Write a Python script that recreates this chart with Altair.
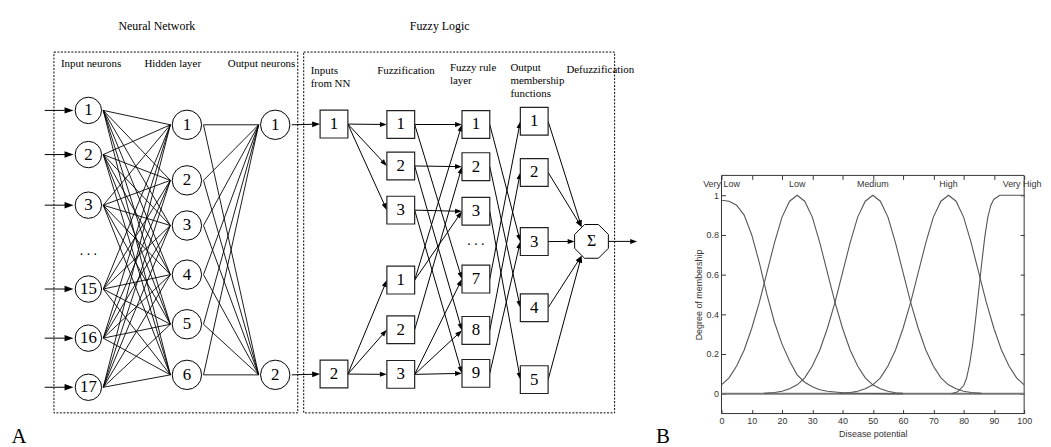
import math
import altair as alt
import pandas as pd

# ---------------- canvas ----------------
W, H, M = 1043, 439, 8          # chart size (px) and page margin

# ================= Panel A : texts =================
titles = ["Neural Network", "Fuzzy Logic"]
title_x = [158, 443]
title_y = [24, 24]

nn_heads = ["Input neurons", "Hidden layer", "Output neurons"]
nn_head_x = [91.7, 174, 263.5]
nn_head_y = [63, 63, 63]

fz_heads = ["Inputs", "from NN", "Fuzzification", "Fuzzy rule", "layer",
            "Output", "membership", "functions", "Defuzzification"]
fz_head_x = [313, 313, 380, 453.3, 453.3, 514.3, 514.3, 514.3, 570.7]
fz_head_y = [70, 82.7, 70, 66.7, 80, 66.7, 80, 93.3, 69.3]

letters = ["A", "B"]
letter_x = [19, 668]
letter_y = [439, 439]

dots_x = [89, 479.5]
dots_y = [255, 245]

# ================= Panel A : nodes =================
in_labels = ["1", "2", "3", "15", "16", "17"]
in_y = [109.5, 154, 205, 289.5, 339, 388.5]
hid_labels = ["1", "2", "3", "4", "5", "6"]
hid_y = [124, 180, 225.5, 275, 325, 376]
out_labels = ["1", "2"]
out_y = [124, 376]
IN_X, HID_X, OUT_X = 89, 188.3, 277.3
R_IN, R_HID = 15, 16.7

nnin_labels = ["1", "2"]
nnin_y = [123.3, 375.2]
fuz_labels = ["1", "2", "3", "1", "2", "3"]
fuz_y = [123.7, 165.5, 210, 280.5, 330.5, 375.5]
rule_labels = ["1", "2", "3", "7", "8", "9"]
rule_y = [123.7, 166.2, 211.2, 279.5, 331.2, 374.5]
omf_labels = ["1", "2", "3", "4", "5"]
omf_y = [120.5, 172, 241.7, 308.3, 380.8]
NNIN_X, FUZ_X, RULE_X, OMF_X = 336.5, 403.8, 479.5, 538.3
HB = 14                              # half box side
SIG_X, SIG_Y, SIG = 596, 241.5, 34
sigma_label = "Σ"

# connections (from index, to index)
nnin_to_fuz = [(0, 0), (0, 1), (0, 2), (1, 3), (1, 4), (1, 5)]
fuz_to_rule = [(0, 0), (0, 3), (1, 1), (1, 4), (2, 2), (2, 5),
               (3, 0), (3, 2), (4, 1), (5, 3), (5, 4), (5, 5)]
rule_to_omf = [(0, 2), (1, 3), (2, 4), (3, 0), (4, 1), (5, 2)]
omf_sigma_tip = [(-10, -14.5), (-10, -14.5), (-17, 0), (-10, 14.5), (-10, 14.5)]

# dashed group frames
frame_x1 = [54.3, 306]
frame_x2 = [300, 619.3]
frame_y1 = [50.7, 50.7]
frame_y2 = [414.3, 414.3]

# ================= Panel B : membership functions =================
b_x_domain = [0, 100]
b_y_domain = [-0.1, 1.1]
x_ticks = [0, 10, 20, 30, 40, 50, 60, 70, 80, 90, 100]
y_ticks = [0, 0.2, 0.4, 0.6, 0.8, 1]
mf_names = ["Very Low", "Low", "Medium", "High", "Very High"]
mf_label_x = [0, 25, 50, 75, 99.3]
mf_label_y = [1.055, 1.055, 1.055, 1.055, 1.055]

vl_x = [0, 2.5, 5, 7.5, 10, 12.5, 15, 17.5, 20, 22.5, 25, 27.5, 30, 32.5, 35, 40, 45, 50, 55, 60]
vl_y = [0.975, 0.97, 0.95, 0.9, 0.8, 0.66, 0.5, 0.36, 0.25, 0.165, 0.095, 0.058, 0.035, 0.02,
        0.012, 0.005, 0.002, 0.001, 0.0, 0.0]
low_x = [0, 2.5, 5, 7.5, 10, 12.5, 15, 17.5, 20, 22.5, 25, 27.5, 30, 32.5, 35, 37.5, 40,
         42.5, 45, 47.5, 50, 52.5, 55, 57.5, 60]
low_y = [0.045, 0.08, 0.14, 0.22, 0.33, 0.46, 0.61, 0.76, 0.89, 0.97, 1.0, 0.97, 0.89, 0.76,
         0.61, 0.46, 0.33, 0.22, 0.14, 0.08, 0.045, 0.025, 0.012, 0.005, 0.002]
med_x = [14, 15, 17.5, 20, 22.5, 25, 27.5, 30, 32.5, 35, 37.5, 40, 42.5, 45, 47.5, 50, 52.5,
         55, 57.5, 60, 62.5, 65, 67.5, 70, 72.5, 75, 77.5, 80, 82.5, 85, 86]
med_y = [0.002, 0.003, 0.006, 0.012, 0.025, 0.045, 0.08, 0.14, 0.22, 0.33, 0.46, 0.61, 0.76,
         0.89, 0.97, 1.0, 0.97, 0.89, 0.76, 0.61, 0.46, 0.33, 0.22, 0.14, 0.08, 0.045, 0.025,
         0.012, 0.006, 0.003, 0.002]
high_x = [39, 40, 42.5, 45, 47.5, 50, 52.5, 55, 57.5, 60, 62.5, 65, 67.5, 70, 72.5, 75, 77.5,
          80, 82.5, 85, 87.5, 90, 92.5, 95, 97.5, 100]
high_y = [0.002, 0.003, 0.006, 0.012, 0.025, 0.045, 0.08, 0.14, 0.22, 0.33, 0.46, 0.61, 0.76,
          0.89, 0.97, 1.0, 0.97, 0.89, 0.76, 0.61, 0.46, 0.33, 0.22, 0.14, 0.08, 0.045]
vh_x = [76, 78, 80, 81, 82, 83, 84, 85, 86, 87, 88, 89, 90, 91, 92, 94, 96, 100]
vh_y = [0.0, 0.01, 0.04, 0.08, 0.15, 0.25, 0.38, 0.52, 0.66, 0.79, 0.89, 0.95, 0.98, 0.99,
        1.0, 1.0, 1.0, 1.0]
zero_x = [0, 100]
zero_y = [0, 0]

# panel B plot-area placement (page px)
B_LEFT, B_RIGHT, B_TOP, B_BOTTOM = 727, 1032, 175, 415

# ================= build tables =================
SERIF = "Liberation Serif"
SANS = "Liberation Sans"

edges = []
for iy in in_y:
    for hy in hid_y:
        edges.append(dict(x=IN_X + R_IN, y=iy, x2=HID_X - R_HID, y2=hy))
for hy in hid_y:
    for oy in out_y:
        edges.append(dict(x=HID_X + R_HID, y=hy, x2=OUT_X - R_HID, y2=oy))
edges = pd.DataFrame(edges)

arrows = []
def add_arrow(x1, y1, x2, y2, size):
    ang = math.atan2(y2 - y1, x2 - x1)
    r = math.sqrt(size) / 2
    hx, hy = x2 - r * math.cos(ang), y2 - r * math.sin(ang)
    arrows.append(dict(x=x1, y=y1, x2=hx, y2=hy, hx=hx, hy=hy,
                       ang=math.degrees(ang) % 360, sz=size))

for iy in in_y:
    add_arrow(45, iy, IN_X - R_IN, iy, 81)
for oy, ny in zip(out_y, nnin_y):
    add_arrow(OUT_X + R_HID, oy, NNIN_X - HB, ny, 64)
for a, b in nnin_to_fuz:
    add_arrow(NNIN_X + HB, nnin_y[a], FUZ_X - HB, fuz_y[b], 49)
for a, b in fuz_to_rule:
    add_arrow(FUZ_X + HB, fuz_y[a], RULE_X - HB, rule_y[b], 49)
for a, b in rule_to_omf:
    add_arrow(RULE_X + HB, rule_y[a], OMF_X - HB, omf_y[b], 49)
for oy, (dx, dy) in zip(omf_y, omf_sigma_tip):
    add_arrow(OMF_X + HB, oy, SIG_X + dx, SIG_Y + dy, 49)
add_arrow(SIG_X + SIG / 2, SIG_Y, 642, SIG_Y, 49)
arrows = pd.DataFrame(arrows)

circles = pd.DataFrame(
    [dict(x=IN_X, y=y, t=t, s=math.pi * R_IN ** 2) for y, t in zip(in_y, in_labels)] +
    [dict(x=HID_X, y=y, t=t, s=math.pi * R_HID ** 2) for y, t in zip(hid_y, hid_labels)] +
    [dict(x=OUT_X, y=y, t=t, s=math.pi * R_HID ** 2) for y, t in zip(out_y, out_labels)])

boxes = pd.DataFrame(
    [dict(x=NNIN_X, y=y, t=t) for y, t in zip(nnin_y, nnin_labels)] +
    [dict(x=FUZ_X, y=y, t=t) for y, t in zip(fuz_y, fuz_labels)] +
    [dict(x=RULE_X, y=y, t=t) for y, t in zip(rule_y, rule_labels)] +
    [dict(x=OMF_X, y=y, t=t) for y, t in zip(omf_y, omf_labels)])

sigma = pd.DataFrame([dict(x=SIG_X, y=SIG_Y, t=sigma_label)])
frames = pd.DataFrame(dict(x=frame_x1, x2=frame_x2, y=frame_y1, y2=frame_y2))
title_df = pd.DataFrame(dict(x=title_x, y=title_y, t=titles))
nnh_df = pd.DataFrame(dict(x=nn_head_x, y=nn_head_y, t=nn_heads))
fzh_df = pd.DataFrame(dict(x=fz_head_x, y=fz_head_y, t=fz_heads))
let_df = pd.DataFrame(dict(x=letter_x, y=letter_y, t=letters))
dots_df = pd.DataFrame(dict(x=dots_x, y=dots_y, t=[". . .", ". . ."]))

curves = pd.concat([
    pd.DataFrame(dict(x=vl_x, y=vl_y, mf="Very Low")),
    pd.DataFrame(dict(x=low_x, y=low_y, mf="Low")),
    pd.DataFrame(dict(x=med_x, y=med_y, mf="Medium")),
    pd.DataFrame(dict(x=high_x, y=high_y, mf="High")),
    pd.DataFrame(dict(x=vh_x, y=vh_y, mf="Very High")),
])
zero_df = pd.DataFrame(dict(x=zero_x, y=zero_y))
bframe_df = pd.DataFrame(dict(x=[b_x_domain[0]], x2=[b_x_domain[1]],
                              y=[b_y_domain[0]], y2=[b_y_domain[1]]))
mfl_df = pd.DataFrame(dict(x=mf_label_x, y=mf_label_y, t=mf_names))

# ================= scales =================
def SX():
    return alt.Scale(domain=[M, M + W], nice=False, zero=False)

def SY():
    return alt.Scale(domain=[M, M + H], reverse=True, nice=False, zero=False)

def BX():
    return alt.Scale(domain=b_x_domain, range=[B_LEFT - M, B_RIGHT - M], nice=False, zero=False)

def BY():
    return alt.Scale(domain=b_y_domain, range=[B_BOTTOM - M, B_TOP - M], nice=False, zero=False)

def axy(c):
    return c.encode(x=alt.X("x:Q", scale=SX(), axis=None),
                    y=alt.Y("y:Q", scale=SY(), axis=None))

# ================= Panel A layers =================
L = []
L.append(axy(alt.Chart(frames).mark_rect(fillOpacity=0, stroke="black", strokeWidth=1,
                                          strokeDash=[2, 1.5]))
         .encode(x2="x2:Q", y2="y2:Q"))
L.append(axy(alt.Chart(edges).mark_rule(color="black", strokeWidth=0.9))
         .encode(x2="x2:Q", y2="y2:Q"))
L.append(axy(alt.Chart(arrows).mark_rule(color="black", strokeWidth=1))
         .encode(x2="x2:Q", y2="y2:Q"))
L.append(alt.Chart(arrows).mark_point(shape="M1,0L-1,-0.72L-1,0.72Z", filled=True,
                                      color="black", opacity=1)
         .encode(x=alt.X("hx:Q", scale=SX(), axis=None),
                 y=alt.Y("hy:Q", scale=SY(), axis=None),
                 angle=alt.Angle("ang:Q", scale=None),
                 size=alt.Size("sz:Q", scale=None)))
L.append(axy(alt.Chart(circles).mark_point(shape="circle", filled=True, fill="white",
                                           stroke="black", strokeWidth=1, opacity=1))
         .encode(size=alt.Size("s:Q", scale=None)))
L.append(axy(alt.Chart(boxes).mark_point(shape="square", filled=True, fill="white",
                                         stroke="#222", strokeWidth=1.2, opacity=1,
                                         size=(2 * HB) ** 2)))
L.append(axy(alt.Chart(sigma).mark_point(
    shape="M-1,-0.41L-0.41,-1L0.41,-1L1,-0.41L1,0.41L0.41,1L-0.41,1L-1,0.41Z",
    filled=True, fill="white", stroke="black", strokeWidth=1, opacity=1, size=SIG ** 2)))
L.append(axy(alt.Chart(pd.concat([circles, boxes])).mark_text(
    font=SERIF, fontSize=17, baseline="middle", align="center", color="black"))
         .encode(text="t:N"))
L.append(axy(alt.Chart(sigma).mark_text(font=SERIF, fontSize=16, baseline="middle",
                                        align="center", color="black")).encode(text="t:N"))
L.append(axy(alt.Chart(title_df).mark_text(font=SERIF, fontSize=12, baseline="middle",
                                           align="center", color="black")).encode(text="t:N"))
L.append(axy(alt.Chart(nnh_df).mark_text(font=SERIF, fontSize=11, baseline="middle",
                                         align="center", color="black")).encode(text="t:N"))
L.append(axy(alt.Chart(fzh_df).mark_text(font=SERIF, fontSize=11, baseline="middle",
                                         align="left", color="black")).encode(text="t:N"))
L.append(axy(alt.Chart(let_df).mark_text(font=SERIF, fontSize=21, baseline="middle",
                                         align="center", color="black")).encode(text="t:N"))
L.append(axy(alt.Chart(dots_df).mark_text(font=SERIF, fontSize=14, baseline="alphabetic",
                                          align="center", color="black")).encode(text="t:N"))

# ================= Panel B layers =================
ax_common = dict(domain=False, grid=False, ticks=True, tickSize=4, tickColor="#333",
                 tickWidth=1, labelFont=SANS, labelFontSize=9, labelColor="#333",
                 titleFont=SANS, titleFontSize=9, titleFontWeight="normal",
                 titleColor="#333", labelFlush=False, labelOverlap=False)

L.append(alt.Chart(bframe_df).mark_rect(fillOpacity=0, stroke="#333", strokeWidth=1)
         .encode(
             x=alt.X("x:Q", scale=BX(), title="Disease potential",
                     axis=alt.Axis(orient="bottom", values=x_ticks, format="d",
                                   offset=(B_BOTTOM - M - 4) - H, labelPadding=3,
                                   titlePadding=4, **ax_common)),
             x2="x2:Q",
             y=alt.Y("y:Q", scale=BY(), title="Degree of membership",
                     axis=alt.Axis(orient="left", values=y_ticks, format="~g",
                                   offset=-(B_LEFT - M + 4), labelPadding=3,
                                   titlePadding=3, **ax_common)),
             y2="y2:Q"))
L.append(alt.Chart(zero_df).mark_line(color="#777", strokeWidth=2)
         .encode(
             x=alt.X("x:Q", scale=BX(), title=None,
                     axis=alt.Axis(orient="top", values=x_ticks, labels=False,
                                   offset=-(B_TOP - M + 4), **ax_common)),
             y=alt.Y("y:Q", scale=BY(), title=None,
                     axis=alt.Axis(orient="right", values=y_ticks, labels=False,
                                   offset=(B_RIGHT - M - 4) - W, **ax_common))))
L.append(alt.Chart(curves).mark_line(color="#555", strokeWidth=1.1)
         .encode(x=alt.X("x:Q", scale=BX(), axis=None),
                 y=alt.Y("y:Q", scale=BY(), axis=None),
                 detail="mf:N", order="x:Q"))
L.append(alt.Chart(mfl_df).mark_text(font=SANS, fontSize=9, baseline="middle",
                                     align="center", color="#333")
         .encode(x=alt.X("x:Q", scale=BX(), axis=None),
                 y=alt.Y("y:Q", scale=BY(), axis=None),
                 text="t:N"))

chart = (alt.layer(*L)
         .resolve_scale(x="independent", y="independent")
         .properties(width=W, height=H, padding=0,
                     autosize=alt.AutoSizeParams(type="none"))
         .configure_view(strokeWidth=0))

chart.save("out.html", embed_options={"renderer": "svg", "actions": False})
